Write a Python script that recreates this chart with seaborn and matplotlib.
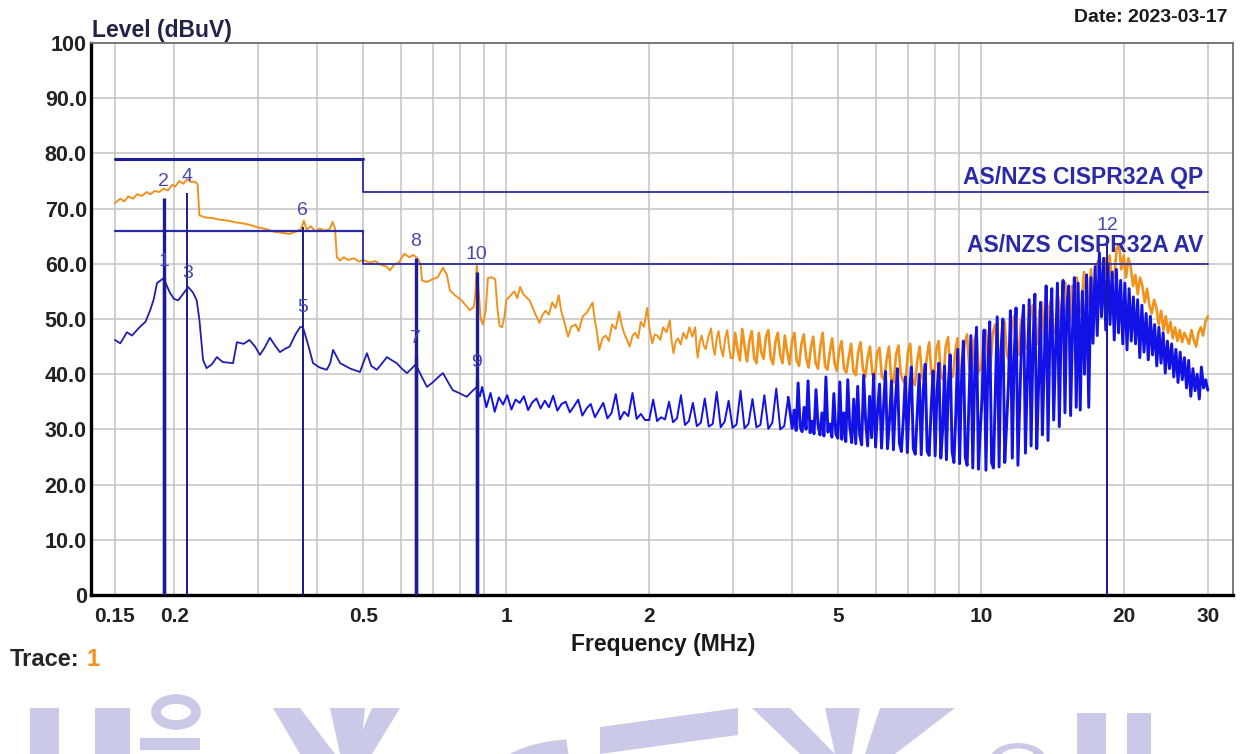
import numpy as np
import matplotlib
matplotlib.use("Agg")
import matplotlib.pyplot as plt
import seaborn as sns
from matplotlib import patches
from matplotlib.ticker import FixedLocator, LogLocator, NullFormatter

sns.set_style("white")
plt.rcParams["font.family"] = ["Liberation Sans Narrow", "Liberation Sans", "DejaVu Sans"]

# ---------------- axis texts ----------------
x_ticks = [0.15, 0.2, 0.5, 1, 2, 5, 10, 20, 30]
x_tick_labels = ["0.15", "0.2", "0.5", "1", "2", "5", "10", "20", "30"]
y_ticks = [0, 10, 20, 30, 40, 50, 60, 70, 80, 90, 100]
y_tick_labels = ["0", "10.0", "20.0", "30.0", "40.0", "50.0", "60.0", "70.0", "80.0", "90.0", "100"]

# ---------------- limit lines ----------------
qp_limit_freq = [0.15, 0.5, 0.5, 30]
qp_limit_level = [79, 79, 73, 73]
av_limit_freq = [0.15, 0.5, 0.5, 30]
av_limit_level = [66, 66, 60, 60]
qp_limit_name = "AS/NZS CISPR32A QP"
av_limit_name = "AS/NZS CISPR32A AV"

# ---------------- markers ----------------
marker_ids = ["1", "2", "3", "4", "5", "6", "7", "8", "9", "10", "11", "12"]
marker_freq = [0.190, 0.190, 0.213, 0.213, 0.373, 0.373, 0.645, 0.645, 0.867, 0.867, 18.4, 18.4]
marker_level = [57.4, 72.0, 55.3, 72.8, 49.0, 66.7, 43.5, 61.0, 39.2, 58.6, 54.0, 64.0]
marker_label_shown = [True] * 10 + [False, True]

# ---------------- peak (orange) sweep ----------------
qp_low = [
    (0.150, 71.0), (0.154, 71.8), (0.157, 71.3), (0.160, 72.2), (0.164, 71.8), (0.167, 72.6),
    (0.171, 72.3), (0.175, 73.0), (0.178, 72.6), (0.182, 73.2), (0.186, 73.0), (0.190, 73.6),
    (0.194, 73.3), (0.198, 74.3), (0.201, 74.0), (0.205, 75.0), (0.209, 74.5), (0.213, 75.3),
    (0.217, 74.8), (0.221, 74.9), (0.224, 74.4), (0.226, 68.8), (0.232, 68.4), (0.240, 68.3),
    (0.249, 68.0), (0.260, 67.8), (0.270, 67.5), (0.280, 67.3), (0.290, 67.0), (0.300, 66.6),
    (0.312, 66.3), (0.325, 65.8), (0.338, 65.6), (0.350, 65.4), (0.362, 65.9), (0.370, 66.3),
    (0.375, 67.8), (0.380, 66.2), (0.388, 66.8), (0.396, 65.9), (0.405, 66.4), (0.415, 66.0),
    (0.425, 66.3), (0.431, 67.6), (0.436, 66.4), (0.440, 61.2), (0.447, 60.6), (0.455, 61.2),
    (0.465, 60.7), (0.478, 61.0), (0.490, 60.4), (0.500, 60.7), (0.515, 60.2), (0.530, 60.5),
    (0.545, 59.8), (0.560, 59.5), (0.569, 58.8), (0.580, 59.8), (0.595, 60.3), (0.610, 61.8),
    (0.625, 61.2), (0.638, 61.6), (0.650, 61.0), (0.660, 60.0), (0.665, 57.0), (0.680, 56.7),
    (0.700, 57.2), (0.718, 57.6), (0.736, 59.3), (0.750, 58.0), (0.761, 55.2), (0.780, 54.3),
    (0.800, 53.6), (0.820, 52.6), (0.838, 51.6), (0.855, 52.2), (0.862, 55.0), (0.867, 60.0),
    (0.875, 55.0), (0.884, 50.0), (0.893, 49.0), (0.905, 51.5), (0.915, 57.4), (0.930, 57.6),
    (0.948, 57.2), (0.958, 52.0), (0.968, 48.8), (0.980, 48.5), (0.992, 50.5), (1.000, 53.4),
    (1.02, 54.2), (1.04, 55.0), (1.055, 53.8), (1.07, 55.8), (1.085, 54.6), (1.10, 54.0),
    (1.12, 53.4), (1.135, 52.2), (1.15, 51.0), (1.175, 49.3), (1.19, 50.6), (1.21, 51.5),
    (1.23, 50.8), (1.25, 53.0), (1.27, 52.0), (1.29, 54.3), (1.305, 51.5), (1.32, 50.0),
    (1.35, 46.8), (1.37, 48.6), (1.40, 49.0), (1.42, 47.8), (1.45, 50.5), (1.48, 51.2),
    (1.52, 53.0), (1.535, 50.0), (1.55, 48.0), (1.57, 44.4), (1.595, 46.5), (1.62, 47.0),
    (1.645, 46.0), (1.67, 49.0), (1.70, 48.2), (1.73, 51.3), (1.75, 49.0), (1.77, 47.5),
    (1.82, 45.0), (1.845, 47.0), (1.87, 47.5), (1.895, 46.5), (1.92, 49.5), (1.95, 48.6),
    (1.98, 52.0), (2.005, 48.0), (2.03, 45.6), (2.055, 47.2), (2.08, 47.0), (2.11, 46.2),
    (2.14, 48.5), (2.175, 47.6), (2.21, 49.8), (2.23, 46.0), (2.25, 43.8), (2.275, 46.0),
    (2.30, 46.5), (2.33, 45.4), (2.36, 47.5), (2.395, 46.4), (2.43, 48.5), (2.465, 46.8),
    (2.50, 48.5), (2.515, 45.0), (2.53, 43.0), (2.555, 45.8), (2.58, 47.0), (2.605, 45.2),
    (2.63, 44.5), (2.665, 46.8), (2.70, 48.3), (2.725, 45.0), (2.75, 43.5), (2.775, 46.6),
    (2.80, 47.8), (2.83, 44.8), (2.86, 43.2), (2.89, 46.4), (2.92, 48.0), (2.945, 45.0),
    (2.97, 43.0),
]
# dense sweep readings, 3 -> 10 MHz and 10 -> 30 MHz
qp_mid_range = (3.0, 10.0)
qp_mid_levels = [
    43.0, 47.5, 44.5, 42.5, 48.2, 45.0, 42.3, 46.0, 47.8, 43.0, 42.0, 47.5, 44.0, 42.8, 46.8,
    48.0, 43.0, 41.8, 45.8, 47.5, 43.5, 42.0, 47.0, 44.0, 41.8,
    46.0, 47.5, 42.5, 41.5, 45.5, 47.2, 43.0, 41.2, 44.8, 46.8, 42.0, 41.0, 45.0, 47.5, 41.5,
    40.8, 44.0, 46.5, 42.0, 40.6,
    44.5, 46.0, 41.0, 40.3, 43.0, 45.5, 40.5, 39.8, 44.0, 45.8, 41.0, 39.5, 43.0, 45.0, 40.0,
    39.2, 43.8, 44.8, 39.5, 39.0, 42.5, 45.0,
    39.0, 38.5, 43.5, 45.2, 40.0, 38.8, 38.2, 44.0, 45.5, 39.0, 38.0, 42.5, 45.0, 39.5, 38.5,
    43.0, 45.8, 40.0, 38.8, 44.5,
    46.0, 39.5, 39.0, 45.0, 46.7, 40.5, 39.5, 44.0, 46.5, 40.0, 39.8, 45.5, 47.2, 41.0, 40.5,
    46.0, 47.5, 40.5,
]
qp_high_range = (10.0, 30.0)
qp_high_levels = [
    41.0, 46.5, 48.0, 42.0, 41.5, 47.5, 49.0, 43.0, 42.5, 48.0, 49.5, 43.5, 42.5, 48.5, 50.5,
    44.0, 43.5, 49.5,
    51.0, 45.0, 44.5, 50.5, 52.5, 46.0, 45.5, 51.5, 53.0, 46.5, 46.5, 52.0, 53.5, 47.5, 48.0, 54.0,
    49.0, 55.0, 56.5, 50.0, 49.5, 56.0, 52.0, 57.5, 51.0, 53.0, 58.5, 54.0, 52.5, 59.0,
    53.0, 59.0, 60.5, 55.0, 54.5, 61.0, 57.0, 61.5, 56.5, 58.0, 62.8, 63.5, 59.0, 61.5,
    57.5, 61.0, 59.5, 56.0, 58.0, 54.5, 57.5, 56.0, 53.0, 55.5, 52.5, 51.0,
    53.5, 52.0, 49.0, 51.5, 48.0, 50.5, 47.5, 49.5, 46.5, 48.5, 46.0, 48.0,
    45.8, 47.5, 46.5, 45.5, 48.0, 46.2, 45.0, 47.5, 48.5, 47.0, 49.5, 50.5,
]

# ---------------- average (blue) sweep ----------------
av_low = [
    (0.150, 46.2), (0.154, 45.6), (0.159, 47.6), (0.163, 47.0), (0.169, 48.5), (0.174, 49.5),
    (0.178, 51.6), (0.181, 53.5), (0.184, 56.5), (0.190, 57.4), (0.193, 56.0), (0.196, 54.7),
    (0.200, 53.6), (0.204, 53.4), (0.209, 54.6), (0.214, 55.8), (0.219, 54.8), (0.223, 53.4),
    (0.226, 49.8), (0.230, 42.6), (0.234, 41.1), (0.240, 41.8), (0.246, 43.1), (0.253, 42.2),
    (0.266, 42.0), (0.271, 45.8), (0.280, 45.5), (0.288, 46.2), (0.296, 45.0), (0.303, 43.5),
    (0.310, 44.8), (0.318, 46.6), (0.326, 45.2), (0.334, 44.0), (0.342, 44.6), (0.350, 45.0),
    (0.360, 47.2), (0.368, 48.5), (0.373, 48.6), (0.382, 45.6), (0.392, 42.0), (0.405, 41.2),
    (0.419, 40.8), (0.426, 42.0), (0.432, 44.4), (0.447, 42.0), (0.470, 41.0), (0.492, 40.4),
    (0.509, 43.8), (0.520, 41.5), (0.534, 40.8), (0.548, 42.0), (0.561, 43.1), (0.575, 42.5),
    (0.588, 42.0), (0.603, 41.0), (0.618, 40.2), (0.632, 41.0), (0.645, 41.8), (0.660, 40.0),
    (0.681, 37.7), (0.700, 38.5), (0.720, 39.5), (0.736, 40.2), (0.755, 38.5), (0.772, 37.1),
    (0.800, 36.5), (0.826, 35.9), (0.845, 36.8), (0.867, 37.7), (0.880, 36.0),
]
av_seg1_range = (0.89, 2.0)
av_seg1_levels = [
    37.7, 34.0, 36.6, 33.2, 35.8, 34.5, 36.2, 33.6, 35.4, 34.8, 36.0, 33.5, 34.9, 35.6, 33.8,
    35.2, 34.0, 36.1, 33.4, 34.6, 35.0, 33.1, 34.2, 35.4, 32.5, 33.8, 34.6, 32.2, 33.5, 34.8,
    32.0, 33.0, 36.4, 31.8, 33.2, 32.4, 36.6, 31.9, 32.8, 31.7,
]
av_seg2_range = (2.0, 4.0)
av_seg2_levels = [
    31.7, 35.4, 31.5, 32.2, 31.8, 35.0, 31.3, 32.0, 36.2, 30.8, 31.5, 34.8, 30.6, 31.2, 35.6,
    30.5, 31.0, 36.8, 30.4, 31.4, 35.2, 30.3, 30.9, 37.0, 30.2, 31.0, 35.5, 30.4, 30.8, 36.2,
    30.1, 31.2, 37.4, 30.0, 30.6, 35.8,
]
av_seg3_range = (4.0, 8.0)
av_seg3_levels = [
    30.2, 33.5, 29.8, 38.4, 30.5, 29.6, 34.0, 30.0, 38.8, 29.4, 31.5, 29.2, 37.2, 30.8, 29.0,
    33.0, 28.8, 39.5, 29.5, 31.0, 28.6, 36.5, 29.2,
    28.4, 38.6, 28.2, 33.0, 27.8, 39.0, 30.5, 27.6, 35.5, 27.4, 37.8, 29.0, 27.2, 39.8, 31.5,
    27.0, 36.0, 28.5, 40.0, 26.8, 33.5, 38.2, 26.6,
    34.0, 40.5, 26.5, 31.5, 38.8, 26.3, 35.0, 41.0, 27.5, 26.0, 32.0, 39.5, 25.8, 36.0, 41.3,
    26.5, 25.5, 33.0, 40.0, 25.4, 37.0, 41.8, 26.0, 25.3, 34.0, 40.6,
]
av_seg4_range = (8.0, 16.0)
av_seg4_levels = [
    25.2, 37.0, 42.0, 24.8, 30.0, 41.5, 24.5, 38.0, 43.5, 26.0, 24.0, 33.0, 44.5, 23.8, 39.0,
    46.0, 25.0, 23.5, 35.0, 47.0,
    23.0, 40.0, 48.5, 22.8, 30.0, 36.0, 48.0, 22.6, 41.0, 49.5, 24.0, 23.0, 37.0, 50.4, 23.2,
    44.0, 50.0, 24.0, 31.0, 38.5,
    51.5, 24.8, 43.0, 52.0, 23.5, 35.0, 47.0, 52.5, 25.7, 40.0, 53.5, 27.0, 45.0, 54.5, 26.5,
    38.0, 53.0, 29.0,
    42.0, 56.0, 28.0, 47.0, 55.5, 31.7, 44.0, 56.5, 30.5, 49.0, 57.0, 33.0, 52.0, 56.0, 32.5,
    48.0, 57.5, 34.0,
]
av_seg5_range = (16.0, 30.0)
av_seg5_levels = [
    56.5, 33.5, 55.0, 40.0, 58.0, 34.0, 57.5, 45.6, 59.5, 47.0, 62.0, 50.4, 61.0, 48.0,
    60.0, 49.0, 58.5, 46.2, 59.0, 47.5, 57.0, 45.5, 56.5, 44.4, 55.5, 46.0,
    54.0, 45.5, 53.5, 43.0, 52.5, 44.0, 51.0, 42.6, 50.5, 43.5, 49.0, 41.5, 48.5, 42.0,
    47.5, 40.2, 46.0, 41.0, 45.5, 39.5, 44.5, 38.5, 44.0, 39.0, 43.0, 37.5, 42.5, 36.0,
    41.0, 37.0, 40.0, 35.5, 41.3, 37.5, 39.0, 37.1,
]


def sweep(rng, levels, last=False):
    f = np.geomspace(rng[0], rng[1], len(levels), endpoint=last)
    return list(f), list(levels)


# orange: low part (explicit readings) and dense part
q_lo_f, q_lo_l = map(list, zip(*qp_low))
q_hi_f, q_hi_l = [q_lo_f[-1]], [q_lo_l[-1]]
for rng, lv, last in [(qp_mid_range, qp_mid_levels, False), (qp_high_range, qp_high_levels, True)]:
    f, l = sweep(rng, lv, last)
    q_hi_f += f
    q_hi_l += l

# blue: low part, mid part, dense part
a_lo_f, a_lo_l = map(list, zip(*av_low))
a_mid_f, a_mid_l = [a_lo_f[-1]], [a_lo_l[-1]]
for rng, lv, last in [(av_seg1_range, av_seg1_levels, False), (av_seg2_range, av_seg2_levels, False)]:
    f, l = sweep(rng, lv, last)
    a_mid_f += f
    a_mid_l += l
a_hi_f, a_hi_l = [a_mid_f[-1]], [a_mid_l[-1]]
for rng, lv, last in [(av_seg3_range, av_seg3_levels, False), (av_seg4_range, av_seg4_levels, False),
                      (av_seg5_range, av_seg5_levels, True)]:
    f, l = sweep(rng, lv, last)
    a_hi_f += f
    a_hi_l += l

# ---------------- figure ----------------
W, H = 1240, 754
fig = plt.figure(figsize=(W / 100, H / 100), dpi=100)
fig.patch.set_facecolor("white")
ax = fig.add_axes([91 / W, 1 - 595 / H, (1233 - 91) / W, (595 - 43) / H])

ORANGE = "#f0921c"
BLUE = "#1212e6"
BLUE_DARK = "#1e1eb0"
NAVY = "#1c1c96"
LIMIT = "#2a2aa6"

sns.lineplot(x=q_lo_f, y=q_lo_l, ax=ax, estimator=None, sort=False, color=ORANGE, lw=1.4, zorder=3)
sns.lineplot(x=q_hi_f, y=q_hi_l, ax=ax, estimator=None, sort=False, color=ORANGE, lw=1.9, zorder=3)
sns.lineplot(x=a_lo_f, y=a_lo_l, ax=ax, estimator=None, sort=False, color=BLUE_DARK, lw=1.3, zorder=4)
sns.lineplot(x=a_mid_f, y=a_mid_l, ax=ax, estimator=None, sort=False, color=BLUE, lw=1.4, zorder=4)
sns.lineplot(x=a_hi_f, y=a_hi_l, ax=ax, estimator=None, sort=False, color=BLUE, lw=2.1, zorder=4)

# limit lines
ax.plot(qp_limit_freq[:2], qp_limit_level[:2], color=NAVY, lw=2.2, zorder=5)
ax.plot(qp_limit_freq[1:], qp_limit_level[1:], color=LIMIT, lw=1.3, zorder=5)
ax.plot(av_limit_freq[:2], av_limit_level[:2], color=LIMIT, lw=1.6, zorder=5)
ax.plot(av_limit_freq[1:], av_limit_level[1:], color=LIMIT, lw=1.3, zorder=5)
ytr = ax.get_yaxis_transform()
ax.text(0.9737, qp_limit_level[-1] + 2.6, qp_limit_name, transform=ytr, ha="right", va="center",
        fontsize=16.5, fontweight="bold", color="#2b2ba8", zorder=7)
ax.text(0.9737, av_limit_level[-1] + 3.4, av_limit_name, transform=ytr, ha="right", va="center",
        fontsize=16.5, fontweight="bold", color="#2b2ba8", zorder=7)

# markers
thick = {"1", "2", "7", "8", "9", "10"}
for mid, mf, ml, show in zip(marker_ids, marker_freq, marker_level, marker_label_shown):
    ax.vlines(mf, 0, ml, color=NAVY, lw=2.4 if mid in thick else 1.4, zorder=6)
    if show:
        ax.text(mf, ml + 3.0, mid, ha="center", va="center", fontsize=14, color="#4848b4", zorder=7)

# axes styling
ax.set_xscale("log")
ax.set_xlim(0.1336, 33.9)
ax.set_ylim(0, 100)
ax.xaxis.set_major_locator(FixedLocator(x_ticks))
ax.set_xticklabels(x_tick_labels)
ax.xaxis.set_minor_locator(LogLocator(base=10, subs=np.arange(2, 10)))
ax.xaxis.set_minor_formatter(NullFormatter())
ax.set_yticks(y_ticks)
ax.set_yticklabels(y_tick_labels)
ax.grid(True, which="both", axis="x", color="#c4c4c4", lw=1.1)
ax.grid(True, which="major", axis="y", color="#c4c4c4", lw=1.1)
ax.set_axisbelow(True)
ax.tick_params(axis="both", which="both", length=0)
ax.tick_params(axis="y", pad=3, labelsize=15.5)
ax.tick_params(axis="x", pad=9, labelsize=15)
for lab in ax.get_xticklabels() + ax.get_yticklabels():
    lab.set_fontweight("bold")
    lab.set_color("#222222")
ax.set_xlabel("")
ax.set_ylabel("")
for side in ["left", "bottom"]:
    ax.spines[side].set_color("black")
    ax.spines[side].set_linewidth(2.4)
for side in ["top", "right"]:
    ax.spines[side].set_color("#6e6e6e")
    ax.spines[side].set_linewidth(1.3)

# figure texts
fig.text(92 / W, 1 - 30 / H, "Level (dBuV)", ha="left", va="center", fontsize=16.5,
         fontweight="bold", color="#23234a")
fig.text(1228 / W, 1 - 17 / H, "Date: 2023-03-17", ha="right", va="center", fontsize=14,
         fontweight="bold", color="#1a1a1a")
fig.text(663 / W, 1 - 645 / H, "Frequency (MHz)", ha="center", va="center", fontsize=16.5,
         fontweight="bold", color="#1a1a1a")
fig.text(10 / W, 1 - 660 / H, "Trace:", ha="left", va="center", fontsize=17, fontweight="bold",
         color="#262626")
fig.text(86 / W, 1 - 660 / H, "1", ha="left", va="center", fontsize=17, fontweight="bold", color=ORANGE)

# faint watermark at the bottom
WM = "#cacae8"


def P(x, y):
    return (x / W, 1 - y / H)


def poly(pts):
    fig.patches.append(patches.Polygon([P(*p) for p in pts], closed=True, transform=fig.transFigure,
                                       facecolor=WM, edgecolor="none", zorder=0))


poly([(30, 708), (59, 708), (59, 754), (30, 754)])
poly([(95, 708), (130, 708), (130, 754), (95, 754)])
fig.patches.append(patches.Ellipse(P(176, 712), 40 / W, 26 / H, transform=fig.transFigure,
                                   facecolor="none", edgecolor=WM, lw=7, zorder=0))
poly([(140, 738), (200, 738), (200, 750), (140, 750)])
poly([(273, 708), (300, 708), (335, 754), (300, 754)])
poly([(330, 708), (365, 708), (360, 754), (340, 754)])
poly([(372, 708), (400, 708), (372, 754), (352, 754)])
fig.patches.append(patches.Wedge(P(575, 800), 100 / W, 95, 178, width=34 / W, transform=fig.transFigure,
                                 facecolor=WM, edgecolor="none", zorder=0))
poly([(600, 727), (738, 708), (738, 735), (600, 754)])
poly([(752, 708), (790, 708), (835, 754), (800, 754)])
poly([(825, 708), (860, 708), (852, 754), (835, 754)])
poly([(880, 708), (955, 708), (895, 754), (865, 754)])
fig.patches.append(patches.Wedge(P(1018, 760), 28 / W, 0, 180, width=9 / W, transform=fig.transFigure,
                                 facecolor=WM, edgecolor="none", zorder=0))
poly([(1077, 713), (1106, 713), (1106, 754), (1077, 754)])
poly([(1127, 713), (1151, 713), (1151, 754), (1127, 754)])

fig.savefig("out.png", dpi=100, facecolor="white")
